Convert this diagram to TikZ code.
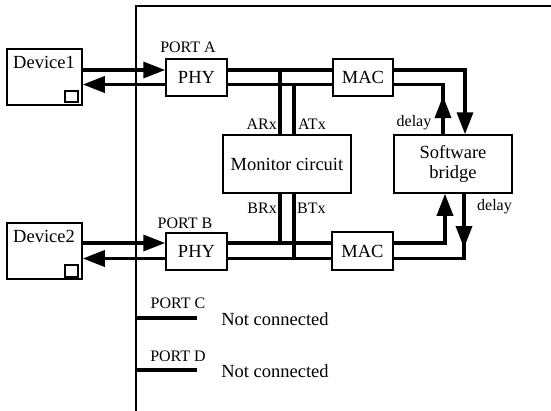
\documentclass[tikz,border=0pt]{standalone}
\usepackage{fontspec}
\setmainfont{Liberation Serif}
\usetikzlibrary{arrows.meta}
\begin{document}
\begin{tikzpicture}[x=1pt,y=-1pt,
  box/.style={draw,line width=1.5pt,inner sep=0pt,font=\fontsize{18.5}{20}\selectfont},
  big/.style={inner sep=0pt,font=\fontsize{18.5}{20}\selectfont},
  lbl/.style={inner sep=0pt,font=\fontsize{16}{18}\selectfont},
  bus/.style={line width=3.5pt},
  arr/.style={bus,-{Triangle[length=22pt,width=16pt]}},
  framestyle/.style={line width=1.5pt}]
\useasboundingbox (0,0) rectangle (551,410);

% frame
\draw[framestyle] (553,6) -- (136,6) -- (136,412);

% boxes
\node[box,minimum width=75pt,minimum height=56pt] (dev1) at (44.5,77) {};
\node[box,minimum width=75pt,minimum height=56pt] (dev2) at (44.5,251) {};
\node[box,minimum width=61pt,minimum height=37pt] (phyA) at (196.5,77.5) {PHY};
\node[box,minimum width=61pt,minimum height=37pt] (phyB) at (196.5,251.5) {PHY};
\node[box,minimum width=60pt,minimum height=37pt] (macA) at (363,77.5) {MAC};
\node[box,minimum width=61pt,minimum height=38pt] (macB) at (362.5,251) {MAC};
\node[box,minimum width=128pt,minimum height=58pt] (mon) at (287,164) {Monitor circuit};
\node[box,minimum width=118pt,minimum height=58pt,align=center] (sw) at (453,164) {Software\\bridge};

% device texts and small squares
\node[big] (d1t) at (44,62) {Device1};
\node[big] (d2t) at (44,236) {Device2};
\draw[line width=1.5pt] (65,91) rectangle (78,102);
\draw[line width=1.5pt] (65,265) rectangle (78,277);

% rows / columns
\coordinate (rA1) at (0,70);
\coordinate (rA2) at (0,84.5);
\coordinate (rB1) at (0,243);
\coordinate (rB2) at (0,258.5);
\coordinate (cARx) at (280,0);
\coordinate (cATx) at (294,0);
\coordinate (cUpA) at (443,0);
\coordinate (cDnA) at (465,0);
\coordinate (cUpB) at (445,0);
\coordinate (cDnB) at (464,0);
\coordinate (tipA) at (443,96);
\coordinate (tipB) at (464,248);

% port A
\draw[arr] (dev1.east|-rA1) -- (phyA.west|-rA1);
\draw[arr] (phyA.west|-rA2) -- (dev1.east|-rA2);
\draw[bus] (phyA.east|-rA1) -- (macA.west|-rA1);
\draw[bus] (phyA.east|-rA2) -- (macA.west|-rA2);
\draw[bus] (cARx|-rA1) -- (cARx|-mon.north);
\draw[bus] (cATx|-rA2) -- (cATx|-mon.north);
\draw[arr] (macA.east|-rA1) -| (cDnA|-sw.north);
\draw[bus] (macA.east|-rA2) -| (cUpA|-sw.north);
\draw[arr] (cUpA|-sw.north) -- (tipA);

% port B
\draw[arr] (dev2.east|-rB1) -- (phyB.west|-rB1);
\draw[arr] (phyB.west|-rB2) -- (dev2.east|-rB2);
\draw[bus] (phyB.east|-rB1) -- (macB.west|-rB1);
\draw[bus] (phyB.east|-rB2) -- (macB.west|-rB2);
\draw[bus] (cARx|-mon.south) -- (cARx|-rB1);
\draw[bus] (cATx|-mon.south) -- (cATx|-rB2);
\draw[arr] (macB.east|-rB1) -| (cUpB|-sw.south);
\draw[bus] (macB.east|-rB2) -| (cDnB|-sw.south);
\draw[arr] (cDnB|-sw.south) -- (tipB);

% labels
\node[lbl] (pa) at (188,47) {PORT A};
\node[lbl] (pb) at (185,223) {PORT B};
\node[lbl,anchor=east] (arx) at (277,124) {ARx};
\node[lbl,anchor=west] (atx) at (298,124) {ATx};
\node[lbl,anchor=east] (brx) at (277,208) {BRx};
\node[lbl,anchor=west] (btx) at (297,208) {BTx};
\node[lbl] (dlA) at (414,123) {delay};
\node[lbl] (dlB) at (494.5,207) {delay};

% ports C and D
\coordinate (pc0) at (136,318);
\coordinate (pc1) at (197,318);
\coordinate (pd0) at (136,370);
\coordinate (pd1) at (197,370);
\draw[bus] (pc0) -- (pc1);
\draw[bus] (pd0) -- (pd1);
\node[lbl] (pc) at (178,303) {PORT C};
\node[lbl] (pd) at (178,356) {PORT D};
\node[big] (ncc) at (275,319) {Not connected};
\node[big] (ncd) at (275,371) {Not connected};
\end{tikzpicture}
\end{document}
